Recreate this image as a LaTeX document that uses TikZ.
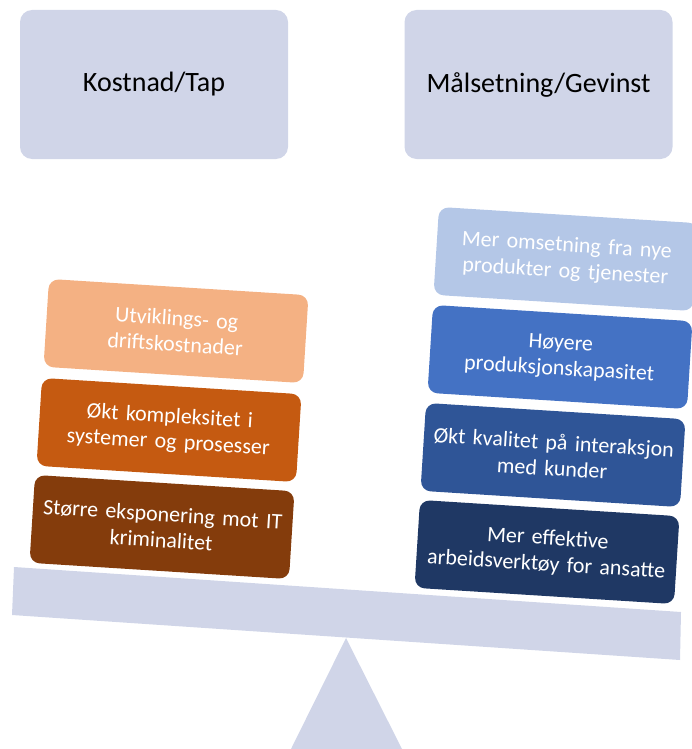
\documentclass[tikz,border=0pt]{standalone}
\usepackage{fontspec}
\setmainfont{Carlito}
\definecolor{scalegrey}{HTML}{D0D5E8}
\definecolor{costA}{HTML}{F4B183}
\definecolor{costB}{HTML}{C55A11}
\definecolor{costC}{HTML}{843C0C}
\definecolor{gainA}{HTML}{B4C7E7}
\definecolor{gainB}{HTML}{4472C4}
\definecolor{gainC}{HTML}{2F5597}
\definecolor{gainD}{HTML}{1F3864}
\begin{document}
\begin{tikzpicture}[x=1pt,y=-1pt,
  header/.style={fill=scalegrey, rounded corners=12pt, minimum width=268pt,
    minimum height=149pt, inner sep=0pt, text=black,
    font=\fontsize{28}{34}\selectfont},
  weight/.style={fill=#1, rounded corners=10pt, minimum height=88pt,
    text width=244pt, inner sep=8pt, align=center, text=white,
    font=\fontsize{22}{26}\selectfont, rotate=-3.6}]
  \useasboundingbox (0,0) rectangle (692,749);

  % fulcrum and beam of the scale
  \coordinate (apex) at (346,638);
  \coordinate (footL) at (291,749);
  \coordinate (footR) at (402,749);
  \fill[scalegrey] (apex) -- (footR) -- (footL) -- cycle;
  \coordinate (beamTL) at (14,567);
  \coordinate (beamTR) at (681,612);
  \coordinate (beamBR) at (680,660);
  \coordinate (beamBL) at (12,615);
  \fill[scalegrey] (beamTL) -- (beamTR) -- (beamBR) -- (beamBL) -- cycle;

  % column headings
  \node[header] (cost) at (154,84.5) {Kostnad/Tap};
  \node[header] (gain) at (538.5,84.5) {Målsetning/Gevinst};

  % cost side
  \node[weight=costA] (c1) at (176,331) {Utviklings- og\\driftskostnader};
  \node[weight=costB] (c2) at (169,430) {Økt kompleksitet i\\systemer og prosesser};
  \node[weight=costC] (c3) at (162,527) {Større eksponering mot IT\\kriminalitet};

  % gain side
  \node[weight=gainA] (g1) at (566,259) {Mer omsetning fra nye\\produkter og tjenester};
  \node[weight=gainB] (g2) at (560,357) {Høyere\\produksjonskapasitet};
  \node[weight=gainC] (g3) at (553,455) {Økt kvalitet på interaksjon\\med kunder};
  \node[weight=gainD] (g4) at (547,552) {Mer effektive\\arbeidsverktøy for ansatte};
\end{tikzpicture}
\end{document}
